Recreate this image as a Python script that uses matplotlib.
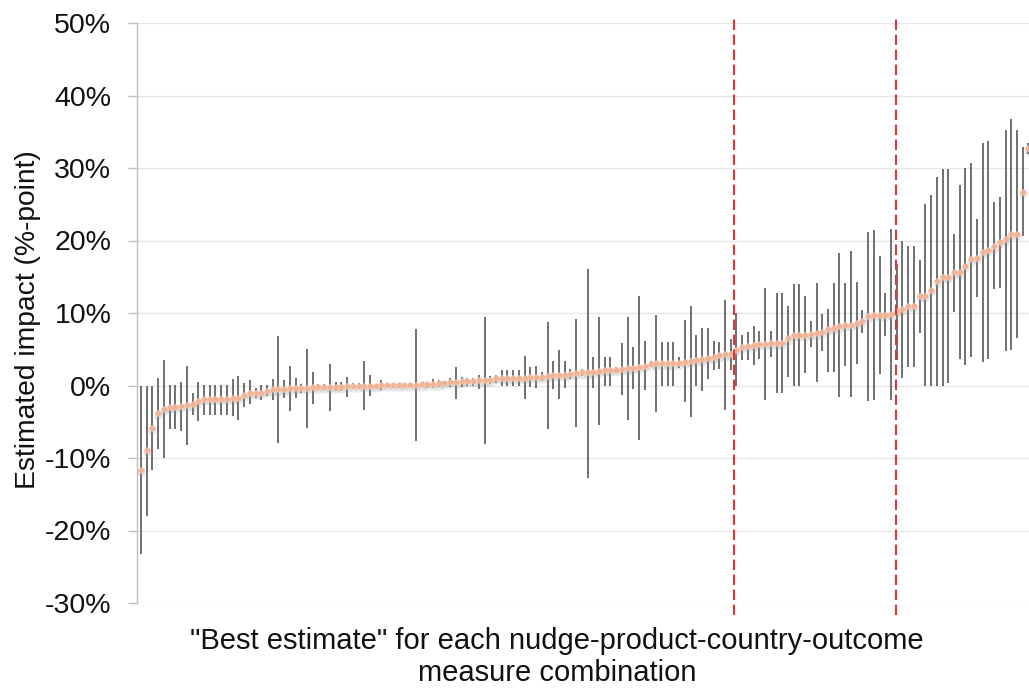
import numpy as np
import matplotlib
matplotlib.use("Agg")
import matplotlib.pyplot as plt
import matplotlib.transforms as mtransforms
from matplotlib.ticker import FuncFormatter

plt.rcParams['font.family'] = ['Liberation Sans', 'DejaVu Sans']

# Best estimate of each combination (percentage points), sorted ascending
estimate = [
    -11.6, -8.9, -5.8, -3.8, -3.2, -3.0, -2.9, -2.8, -2.7, -2.6,
    -2.2, -1.9, -1.9, -1.9, -1.9, -1.9, -1.7, -1.7, -1.3, -1.0,
    -1.0, -1.0, -0.7, -0.55, -0.55, -0.55, -0.4, -0.3, -0.3, -0.3,
    -0.2, -0.2, -0.15, -0.15, -0.15, -0.15, -0.1, -0.1, -0.05, -0.02,
    0.0, 0.0, 0.1, 0.1, 0.1, 0.1, 0.1, 0.1, 0.07, 0.15,
    0.2, 0.25, 0.3, 0.4, 0.5, 0.5, 0.6, 0.65, 0.6, 0.7,
    0.7, 0.8, 1.0, 1.0, 1.0, 1.0, 1.0, 1.1, 1.15, 1.2,
    1.2, 1.3, 1.5, 1.5, 1.5, 1.6, 1.75, 1.8, 1.8, 1.9,
    2.0, 2.1, 2.1, 2.2, 2.3, 2.35, 2.4, 2.6, 2.75, 3.0,
    3.05, 3.05, 3.05, 3.05, 3.15, 3.3, 3.4, 3.5, 3.6, 3.85,
    4.0, 4.15, 4.3, 4.3, 4.95, 5.35, 5.5, 5.6, 5.7, 5.7,
    5.8, 5.8, 5.9, 6.5, 6.95, 6.95, 6.95, 7.1, 7.2, 7.4,
    7.8, 7.9, 8.15, 8.4, 8.4, 8.6, 8.9, 9.6, 9.75, 9.75,
    9.75, 9.9, 10.3, 10.5, 11.0, 11.0, 12.4, 12.4, 13.2, 14.4,
    15.0, 15.0, 15.6, 15.7, 16.5, 17.4, 17.6, 18.4, 18.7, 19.2,
    19.8, 20.25, 20.9, 20.9, 26.7, 32.7,
]

# Lower end of each interval
lower = [
    -23.3, -18.0, -11.6, -8.7, -10.0, -6.0, -6.0, -6.3, -8.2, -4.0,
    -4.9, -4.1, -4.0, -4.0, -4.0, -4.1, -4.2, -4.8, -3.0, -2.5,
    -1.7, -2.0, -1.4, -2.0, -7.9, -1.7, -3.5, -1.7, -1.0, -5.8,
    -2.5, -0.5, -0.5, -3.5, -0.8, -0.8, -1.6, -0.45, -0.45, -3.4,
    -1.4, -0.2, -0.6, -0.1, -0.1, -0.1, -0.1, -0.1, -7.6, -0.2,
    -0.3, -0.4, -0.15, 0.1, -0.2, -1.8, -0.2, 0.0, -0.1, -0.45,
    -8.1, 0.15, 0.35, 0.0, 0.0, 0.0, 0.0, -1.8, -0.2, -0.3,
    0.6, -6.0, -0.45, -1.8, -0.3, 0.9, -5.7, 1.3, -12.7, -0.4,
    -5.5, 0.0, 0.0, 1.75, -1.3, -4.7, -0.45, -7.5, -0.6, 2.6,
    -3.7, 0.0, 0.0, 0.0, 2.4, -2.3, -4.3, 0.0, -0.7, 0.9,
    2.1, 2.3, -3.4, 2.1, 0.0, 3.5, 3.5, 2.8, 3.65, -2.0,
    4.0, -1.05, -1.05, 1.2, 0.0, 0.0, 1.7, 5.35, 0.45, 4.8,
    1.9, 1.9, -1.6, 2.7, -1.6, 3.0, 7.2, -2.1, -2.0, 1.6,
    6.8, -2.0, 3.5, 1.05, 2.5, 2.5, 7.3, 0.0, 0.0, 0.0,
    0.0, 0.3, 10.2, 3.7, 2.85, 3.9, 12.2, 3.2, 3.7, 13.25,
    13.5, 4.7, 4.9, 6.6, 20.6, 31.9,
]

# Upper end of each interval
upper = [
    0.0, 0.0, 0.0, 1.1, 3.5, 0.1, 0.1, 0.5, 2.75, -1.1,
    0.5, 0.1, 0.1, 0.1, 0.1, 0.1, 0.9, 1.3, 0.3, 0.7,
    -0.3, 0.05, 0.1, 0.9, 6.8, 0.7, 2.75, 1.0, 0.2, 5.1,
    1.9, 0.2, 0.2, 3.0, 0.5, 0.55, 1.2, 0.3, 0.3, 3.4,
    1.5, 0.2, 0.75, 0.3, 0.3, 0.3, 0.3, 0.3, 7.8, 0.4,
    0.5, 0.85, 0.75, 0.65, 1.1, 2.6, 1.2, 1.0, 1.05, 1.4,
    9.5, 1.25, 1.4, 2.1, 2.1, 2.1, 2.1, 4.1, 2.5, 2.75,
    1.8, 8.8, 3.4, 4.9, 3.4, 2.3, 9.2, 2.3, 16.1, 4.0,
    9.4, 4.0, 4.0, 2.6, 5.9, 9.4, 5.3, 12.4, 6.1, 3.4,
    9.7, 5.95, 5.95, 5.95, 4.0, 9.0, 11.0, 6.9, 8.0, 8.0,
    6.2, 5.95, 11.85, 6.4, 10.0, 7.0, 7.4, 8.2, 7.55, 13.4,
    7.55, 12.7, 12.7, 11.0, 14.0, 14.0, 12.3, 8.9, 14.1, 9.9,
    10.5, 14.1, 18.3, 14.1, 18.5, 14.3, 10.4, 21.2, 21.5, 17.9,
    12.75, 21.6, 16.8, 19.9, 19.3, 19.3, 17.35, 25.0, 26.3, 28.8,
    29.9, 29.8, 20.9, 27.6, 30.0, 30.7, 22.9, 33.5, 33.7, 25.3,
    26.0, 35.3, 36.8, 35.2, 32.9, 33.5,
]

# Group boundaries, in position along the sorted axis
dividers = [103.6, 131.9]

y_ticks = [-30, -20, -10, 0, 10, 20, 30, 40, 50]

est = np.array(estimate)
lo = np.array(lower)
hi = np.array(upper)
x = np.arange(len(est))

W, H = 1029, 688
fig = plt.figure(figsize=(W / 100, H / 100), dpi=100)
ax = fig.add_axes([137 / W, (H - 603) / H, (W - 137) / W, 580 / H])

grid_c = '#e6e6e6'
axis_c = '#bfbfbf'

for t in y_ticks:
    ax.axhline(t, color=grid_c, lw=1.0, zorder=0)

# confidence intervals
ax.vlines(x, lo, hi, colors='#5e5e5e', lw=1.25, zorder=2)

# soft shadow beneath the point estimates
shadow = mtransforms.offset_copy(ax.transData, fig=fig, x=0, y=-1.6, units='points')
ax.plot(x, est, 'o', ms=6.2, color='#9a9a9a', alpha=0.22, mec='none',
        transform=shadow, zorder=3)
ax.plot(x, est, 'o', ms=4.0, color='#f2b293', mec='#f6c9b3', mew=0.4, zorder=4)

# group dividers
blend = mtransforms.blended_transform_factory(ax.transData, ax.transAxes)
for d in dividers:
    ax.plot([d, d], [-12 / 580, 1 + 8 / 580], transform=blend, color='#e0353b',
            lw=1.5, dashes=(5, 2.2), clip_on=False, zorder=5)

ax.set_xlim(-0.7, 155.1)
ax.set_ylim(-30, 50)
ax.set_yticks(y_ticks)
ax.yaxis.set_major_formatter(FuncFormatter(lambda v, p: f"{int(v)}%"))
ax.set_xticks([])

for s in ['top', 'right', 'bottom']:
    ax.spines[s].set_visible(False)
ax.spines['left'].set_color(axis_c)
ax.spines['left'].set_linewidth(1.0)
ax.tick_params(axis='y', direction='out', length=6.5, width=1.0, color=axis_c,
               pad=12, labelsize=20.5, labelcolor='#111111')

fig.text(28 / W, (H - 320) / H, 'Estimated impact (%-point)', rotation=90,
         ha='center', va='center', fontsize=20.3, color='#111111')
fig.text(557 / W, (H - 657) / H,
         '"Best estimate" for each nudge-product-country-outcome\nmeasure combination',
         ha='center', va='center', multialignment='center', fontsize=21,
         linespacing=1.15, color='#111111')

fig.savefig('out.png', dpi=100)
